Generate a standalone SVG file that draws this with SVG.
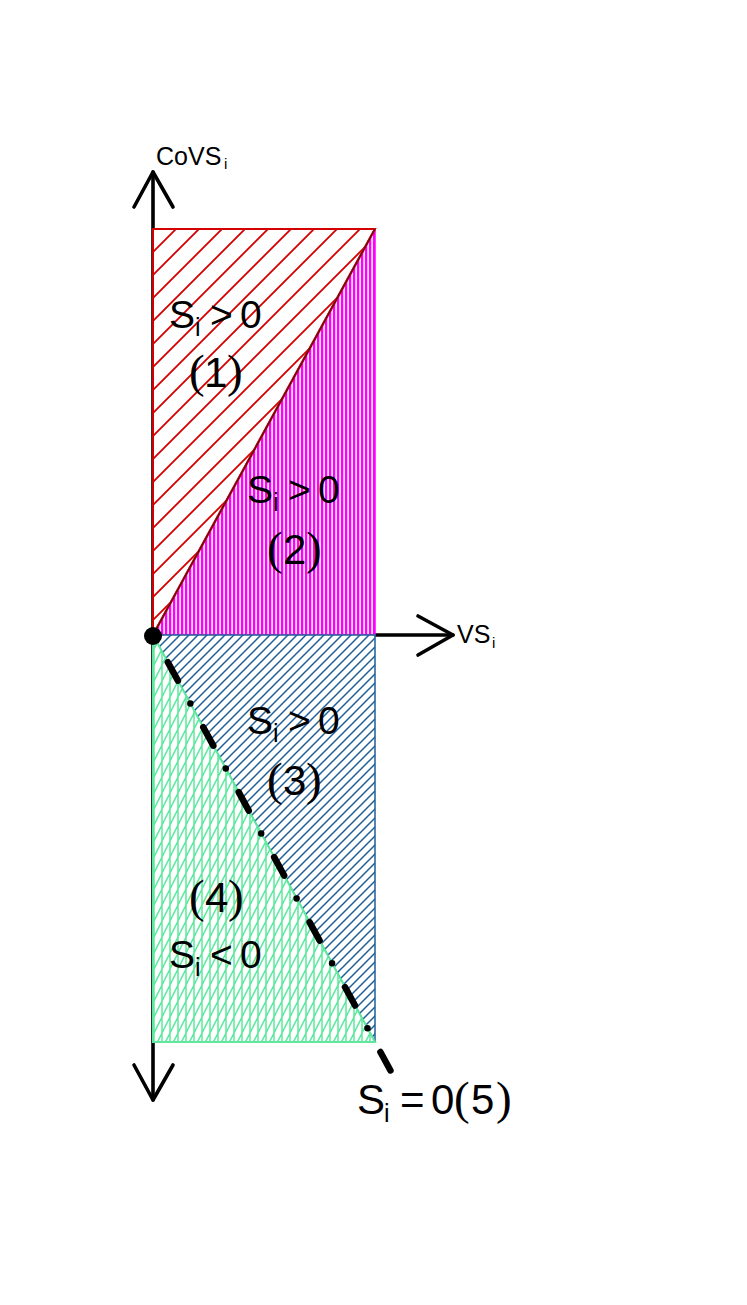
<svg xmlns="http://www.w3.org/2000/svg" width="747" height="1305" viewBox="0 0 747 1305">
<style>
.ax{stroke:#000;stroke-width:3.6;fill:none;stroke-linecap:round;stroke-linejoin:round}
.lbl{font-family:"Liberation Sans",Arial,sans-serif;font-size:39px;fill:#000}
.sub{font-size:25px}
.num{font-family:"Liberation Sans",Arial,sans-serif;font-size:42px;fill:#000}
.par{font-family:"Liberation Serif","Times New Roman",serif;font-size:47px}
.ax-lbl{font-family:"Liberation Sans",Arial,sans-serif;font-size:25px;fill:#000}
.ax-sub{font-size:15px}
</style>
<defs>
<pattern id="pRed" patternUnits="userSpaceOnUse" x="153" y="229" width="23" height="23">
<rect width="23" height="23" fill="#fff"/>
<path d="M-2,25 L25,-2 M-2,2 L2,-2 M21,25 L25,21" stroke="#d40000" stroke-width="1.8"/>
</pattern>
<pattern id="pMag" patternUnits="userSpaceOnUse" x="153" y="0" width="4" height="10">
<rect width="4" height="10" fill="#ffe0ff"/>
<rect x="0" width="2.2" height="10" fill="#ff00ff"/>
</pattern>
<pattern id="pBlue" patternUnits="userSpaceOnUse" x="153" y="635" width="9" height="9">
<rect width="9" height="9" fill="#fff"/>
<path d="M-1,10 L10,-1 M-1,1 L1,-1 M8,10 L10,8" stroke="#1f5f9a" stroke-width="1.5"/>
</pattern>
<pattern id="pGreen" patternUnits="userSpaceOnUse" x="153" y="635" width="8" height="16">
<rect width="8" height="16" fill="#fff"/>
<path d="M1,0 V16 M0,16 L8,0 M-4,8 L0,0 M8,16 L12,8" stroke="#5de89d" stroke-width="1.5"/>
</pattern>
</defs>

<g id="axes">
<line class="ax" x1="153" y1="172" x2="153" y2="1100"/>
<line class="ax" x1="153" y1="635" x2="453" y2="635"/>
<polyline class="ax" points="134,207 153,172 173,207"/>
<polyline class="ax" points="134,1065 153,1100 173,1065"/>
<polyline class="ax" points="418,616 453,635 418,655"/>
</g>

<g id="region1">
<polygon points="153,229 375,229 153,635" fill="url(#pRed)" stroke="#d40000" stroke-width="2"/>
</g>
<g id="region2">
<polygon points="375,229 375,635 153,635" fill="url(#pMag)" stroke="#ff00ff" stroke-width="1.5"/>
</g>
<g id="region3">
<polygon points="153,635 375,635 375,1042" fill="url(#pBlue)" stroke="#1f5f9a" stroke-width="1.5"/>
</g>
<g id="region4">
<polygon points="153,635 153,1042 375,1042" fill="url(#pGreen)" stroke="#5de89d" stroke-width="2"/>
</g>

<g id="connectors">
<line x1="153" y1="635" x2="375" y2="229" stroke="#d40000" stroke-width="2.4"/>
<line x1="153" y1="635" x2="375" y2="229" stroke="#222" stroke-width="1"/>
<line x1="153" y1="635" x2="392.4" y2="1074" stroke="#000" stroke-width="6.5" stroke-linecap="round" stroke-dasharray="0 27 21 26" stroke-dashoffset="-4"/>
<circle cx="153" cy="636" r="9" fill="#000"/>
</g>

<g id="axis-labels">
<text class="ax-lbl" x="156" y="165">CoVS<tspan class="ax-sub" x="224" y="169">i</tspan></text>
<text class="ax-lbl" x="457" y="643">VS<tspan class="ax-sub" x="492" y="648">i</tspan></text>
</g>

<g id="label1">
<text class="lbl" y="328"><tspan x="169">S</tspan><tspan class="sub" x="195" y="336">i</tspan><tspan x="210" y="328">&gt;</tspan><tspan x="240">0</tspan></text>
<text class="num" y="387"><tspan class="par" x="189">(</tspan><tspan x="204">1</tspan><tspan class="par" x="227">)</tspan></text>
</g>
<g id="label2">
<text class="lbl" y="503"><tspan x="247">S</tspan><tspan class="sub" x="273" y="511">i</tspan><tspan x="288" y="503">&gt;</tspan><tspan x="318">0</tspan></text>
<text class="num" y="564"><tspan class="par" x="267">(</tspan><tspan x="283">2</tspan><tspan class="par" x="306">)</tspan></text>
</g>
<g id="label3">
<text class="lbl" y="734"><tspan x="247">S</tspan><tspan class="sub" x="273" y="742">i</tspan><tspan x="288" y="734">&gt;</tspan><tspan x="318">0</tspan></text>
<text class="num" y="795"><tspan class="par" x="267">(</tspan><tspan x="283">3</tspan><tspan class="par" x="306">)</tspan></text>
</g>
<g id="label4">
<text class="num" y="912"><tspan class="par" x="189">(</tspan><tspan x="205">4</tspan><tspan class="par" x="228">)</tspan></text>
<text class="lbl" y="968"><tspan x="169">S</tspan><tspan class="sub" x="195" y="976">i</tspan><tspan x="210" y="968">&lt;</tspan><tspan x="240">0</tspan></text>
</g>
<g id="label5">
<text class="num" y="1114"><tspan x="357">S</tspan><tspan class="sub" x="384" y="1122" font-size="26">i</tspan><tspan x="400" y="1114">=</tspan><tspan x="431">0</tspan><tspan class="par" x="454">(</tspan><tspan x="471">5</tspan><tspan class="par" x="496">)</tspan></text>
</g>
</svg>
